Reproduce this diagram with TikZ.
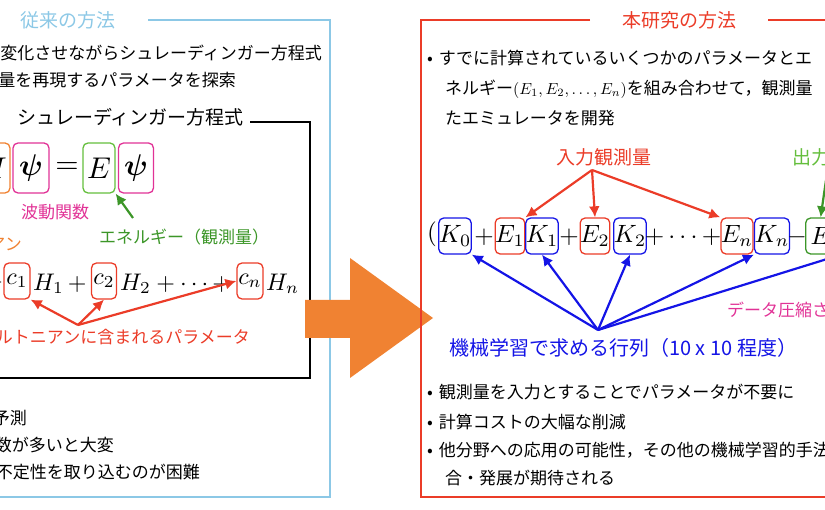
\documentclass[tikz,border=0pt]{standalone}
\usepackage{fontspec}
\usepackage{bm}
\usepackage{graphicx}
\setmainfont{Noto Sans CJK JP}
\usetikzlibrary{arrows.meta}
\newcommand{\MM}[2]{\scalebox{#1}{\normalsize$#2$}}
\definecolor{lblue}{RGB}{140,200,230}
\definecolor{cred}{RGB}{235,60,40}
\definecolor{cgreen}{RGB}{60,150,40}
\definecolor{lgreen}{RGB}{100,190,60}
\definecolor{cpink}{RGB}{225,50,150}
\definecolor{corange}{RGB}{240,130,50}
\definecolor{cblue}{RGB}{20,20,230}
\begin{document}
\begin{tikzpicture}[x=1pt,y=-1pt,
  txt/.style={inner sep=0pt,font=\fontsize{17}{19}\selectfont},
  ttl/.style={inner sep=0pt,font=\fontsize{19}{21}\selectfont},
  bx/.style={draw,rounded corners=5pt,line width=1.3pt,inner sep=0pt,minimum height=36pt},
  arr/.style={line width=2.2pt,-{Latex[length=11pt,width=11pt]}},
  m/.style={inner sep=0pt}]
\useasboundingbox (0,0) rectangle (825,510);
\clip (0,0) rectangle (825,510);
% left panel
\draw[lblue,line width=1.3pt] (148,20) -- (330,20) -- (330,497) -- (-5,497);
\node[ttl,text=lblue] (t1) at (68,20) {従来の方法};
\node[txt,anchor=east] (l1) at (322,53) {変化させながらシュレーディンガー方程式};
\node[txt,anchor=east] (l2) at (236,80) {量を再現するパラメータを探索};
\draw[line width=1.3pt] (250,122) -- (310,122) -- (310,378) -- (-5,378);
\node[ttl,anchor=east] (t2) at (244,117) {シュレーディンガー方程式};
\node[bx,draw=corange,minimum width=34pt,minimum height=50pt] (bH) at (-7,168) {\MM{3}{H}};
\node[bx,draw=cpink,minimum width=36pt,minimum height=50pt] (bp1) at (31,168) {\MM{3}{\bm{\psi}}};
\node[m] (eq) at (67,168) {\MM{3}{=}};
\node[bx,draw=lgreen,minimum width=32pt,minimum height=50pt] (bE) at (99,168) {\MM{3}{E}};
\node[bx,draw=cpink,minimum width=35pt,minimum height=50pt] (bp2) at (136,168) {\MM{3}{\bm{\psi}}};
\node[txt,text=cpink] (wf) at (55,212) {波動関数};
\node[txt,text=cgreen] (en) at (184,237) {エネルギー（観測量）};
\draw[arr,cgreen] (133,218) -- (bE.south east);
\node[txt,text=corange,anchor=east] (an) at (22,245) {アン};
\node[m,anchor=east] (pl0) at (3,283) {\MM{2.4}{+}};
\node[bx,draw=cred,minimum width=26pt] (c1) at (17,281) {\MM{2.4}{c_1}};
\node[m,anchor=west] (h1) at (33,284) {\MM{2.4}{H_1\,+}};
\node[bx,draw=cred,minimum width=25pt] (c2) at (104,281) {\MM{2.4}{c_2}};
\node[m,anchor=west] (h2) at (120,284) {\MM{2.4}{H_2+\cdots+}};
\node[bx,draw=cred,minimum width=26pt] (cn) at (250,281) {\MM{2.4}{c_n}};
\node[m,anchor=west] (hn) at (266,284) {\MM{2.4}{H_n}};
\coordinate (rs) at (78,325);
\draw[arr,cred] (rs) -- (c1.south east);
\draw[arr,cred] (rs) -- (c2.south);
\draw[arr,cred] (rs) -- (cn.west);
\node[txt,text=cred,anchor=east] (rp) at (250,337) {ルトニアンに含まれるパラメータ};
\node[txt,anchor=east] (b1) at (27,418) {予測};
\node[txt,anchor=east] (b2) at (114,445) {数が多いと大変};
\node[txt,anchor=east] (b3) at (200,472) {不定性を取り込むのが困難};
% big arrow
\fill[corange] (305,300) -- (350,300) -- (350,258) -- (433,318) -- (350,378) -- (350,338) -- (305,338) -- cycle;
% right panel
\draw[cred,line width=1.3pt] (590,20) -- (421,20) -- (421,497) -- (830,497);
\draw[cred,line width=1.3pt] (768,20) -- (830,20);
\node[ttl,text=cred] (t3) at (679,20) {本研究の方法};
\node[txt,anchor=west] (r1) at (427,58) {•\hspace{6pt}すでに計算されているいくつかのパラメータとエ};
\node[txt,anchor=west] (r2) at (445,89) {ネルギー\MM{1.6}{(E_1,E_2,\ldots,E_n)}を組み合わせて，観測量};
\node[txt,anchor=west] (r3) at (445,118) {たエミュレータを開発};
\node[ttl,text=cred] (in) at (604,157) {入力観測量};
\node[ttl,text=lgreen,anchor=west] (out) at (792,157) {出力観測量};
\node[m] (lp) at (432,234) {\MM{2.5}{(}};
\node[bx,draw=cblue,minimum width=30pt] (K0) at (455,236) {\MM{2.5}{K_0}};
\node[m] (p1) at (484,237) {\MM{2.5}{+}};
\node[bx,draw=cred,minimum width=26pt] (E1) at (510,236) {\MM{2.5}{E_1}};
\node[bx,draw=cblue,minimum width=30pt] (K1) at (542,236) {\MM{2.5}{K_1}};
\node[m] (p2) at (569,237) {\MM{2.5}{+}};
\node[bx,draw=cred,minimum width=29pt] (E2) at (595,236) {\MM{2.5}{E_2}};
\node[bx,draw=cblue,minimum width=31pt] (K2) at (630,236) {\MM{2.5}{K_2}};
\node[m] (p3) at (683,237) {\MM{2.5}{+\cdots+}};
\node[bx,draw=cred,minimum width=31pt] (En) at (737,236) {\MM{2.5}{E_n}};
\node[bx,draw=cblue,minimum width=30pt] (Kn) at (772,236) {\MM{2.5}{K_n}};
\node[m] (mi) at (797,237) {\MM{2.5}{-}};
\node[bx,draw=cgreen,minimum width=30pt,anchor=west] (Eo) at (805,236) {\MM{2.5}{E}};
\coordinate (is) at (592,170);
\draw[arr,cred] (is) -- (E1.north east);
\draw[arr,cred] (is) -- (E2.north);
\draw[arr,cred] (is) -- (En.north west);
\coordinate (og) at (826,180);
\draw[arr,cgreen] (og) -- (Eo.north);
\coordinate (bs) at (598,330);
\draw[arr,cblue] (bs) -- (K0.south east);
\draw[arr,cblue] (bs) -- (K1.south);
\draw[arr,cblue] (bs) -- (K2.south);
\draw[arr,cblue] (bs) -- (Kn.south west);
\coordinate (br) at (840,255);
\draw[line width=2.2pt,cblue] (bs) -- (br);
\node[txt,text=cpink,anchor=west] (dc) at (727,310) {データ圧縮された};
\node[inner sep=0pt,font=\fontsize{20}{22}\selectfont,text=cblue,anchor=west] (ml) at (449,348) {機械学習で求める行列（10 x 10 程度）};
\node[txt,anchor=west] (r4) at (427,392) {•\hspace{6pt}観測量を入力とすることでパラメータが不要に};
\node[txt,anchor=west] (r5) at (427,422) {•\hspace{6pt}計算コストの大幅な削減};
\node[txt,anchor=west] (r6) at (427,450) {•\hspace{6pt}他分野への応用の可能性，その他の機械学習的手法};
\node[txt,anchor=west] (r7) at (445,478) {合・発展が期待される};
\end{tikzpicture}
\end{document}
